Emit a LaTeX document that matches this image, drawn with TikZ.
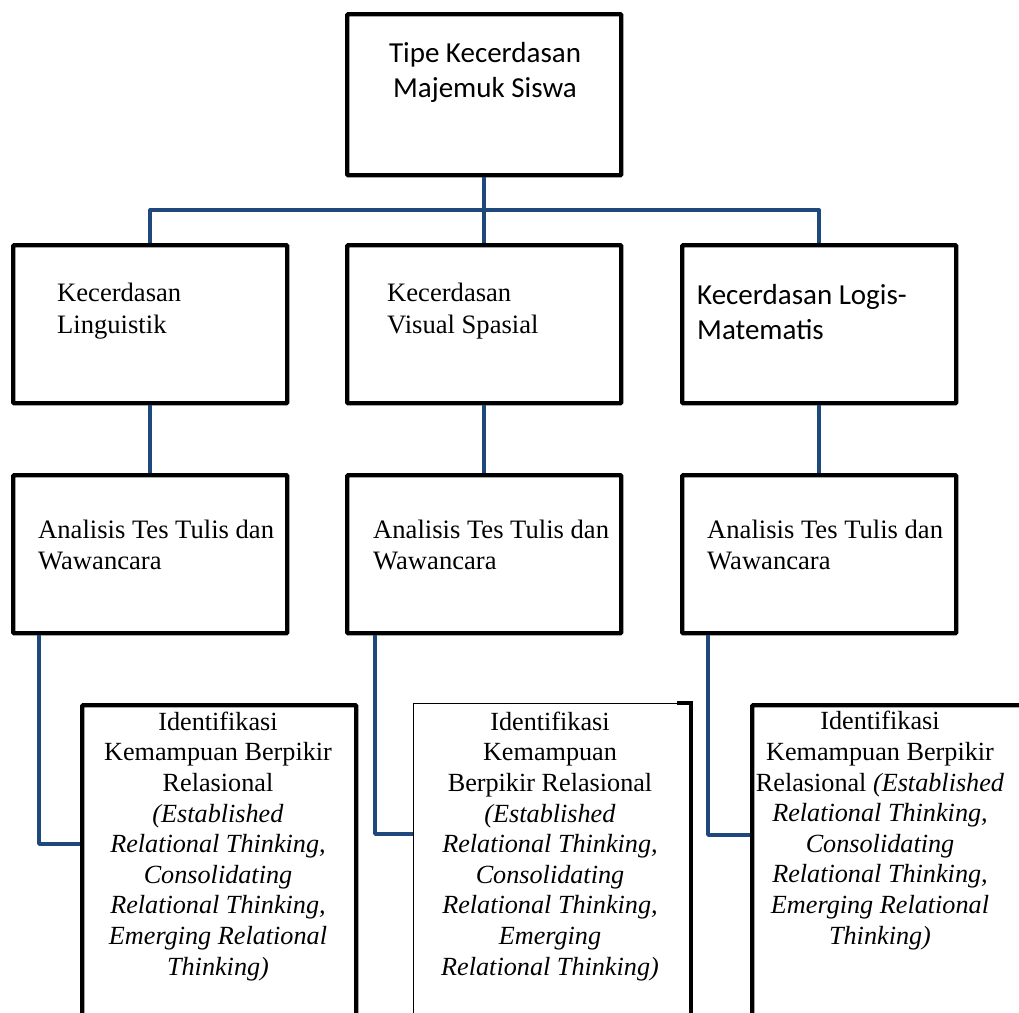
\documentclass[tikz,border=0pt]{standalone}
\usepackage{fontspec}
\setmainfont{Liberation Serif}
\newfontfamily\calfont{Carlito}
\definecolor{navy}{RGB}{31,73,125}
\begin{document}
\begin{tikzpicture}[x=1pt,y=-1pt,
  box/.style={draw=black, line width=4.4pt, rounded corners=1pt, fill=white, anchor=north west, inner sep=0pt},
  thinbox/.style={draw=black, line width=0.8pt, fill=white, anchor=north west, inner sep=0pt},
  conn/.style={draw=navy, line width=3.6pt, line join=round, line cap=butt},
  ctext/.style={font=\calfont\fontsize{29}{35}\selectfont, inner sep=0pt},
  ltext/.style={font=\fontsize{26.6}{31.5}\selectfont, inner sep=0pt, align=left, anchor=base west},
  btext/.style={font=\fontsize{26.2}{30.6}\selectfont, inner sep=0pt, align=center, anchor=base}]
\useasboundingbox (0,0) rectangle (1019,1012);
\clip (0,0) rectangle (1019,1012);
% boxes
\node[box, minimum width=274, minimum height=161] (top) at (345,12) {};
\node[box, minimum width=274, minimum height=158] (l2a) at (11,243) {};
\node[box, minimum width=274, minimum height=158] (l2b) at (345,243) {};
\node[box, minimum width=274, minimum height=158] (l2c) at (680,243) {};
\node[box, minimum width=274, minimum height=158] (l3a) at (11,473) {};
\node[box, minimum width=274, minimum height=158] (l3b) at (345,473) {};
\node[box, minimum width=274, minimum height=158] (l3c) at (680,473) {};
\node[box, minimum width=274, minimum height=340] (l4a) at (80,703) {};
\node[thinbox, minimum width=277.6, minimum height=340] (l4b) at (413,703) {};
\draw[line width=4.4pt, line cap=butt] ([xshift=264]l4b.north west) -- ([xshift=278]l4b.north west) -- ++(0,340);
\node[box, minimum width=300, minimum height=340] (l4c) at (750,703) {};
% connectors
\coordinate (hub) at (top.south |- 0,210);
\draw[conn] (top.south) -- (hub);
\draw[conn] (l2a.north) |- (hub) -| (l2c.north);
\draw[conn] (hub) -- (l2b.north);
\draw[conn] (l2a.south) -- (l3a.north);
\draw[conn] (l2b.south) -- (l3b.north);
\draw[conn] (l2c.south) -- (l3c.north);
\draw[conn] ([xshift=28]l3a.south west) |- ([yshift=-141]l4a.north west);
\draw[conn] ([xshift=30]l3b.south west) |- ([yshift=-131]l4b.north west);
\draw[conn] ([xshift=28]l3c.south west) |- ([yshift=-132]l4c.north west);
% texts (anchor base = baseline of last line)
\node[ctext, align=center, anchor=base] (t0) at (485,97) {Tipe Kecerdasan\\Majemuk Siswa};
\node[ltext] (t1) at (57,333) {Kecerdasan\\Linguistik};
\node[ltext] (t2) at (387,333) {Kecerdasan\\Visual Spasial};
\node[ctext, align=left, anchor=base west] (t3) at (697,339) {Kecerdasan Logis-\\Matematis};
\node[ltext] (t4) at (38,569.5) {Analisis Tes Tulis dan\\Wawancara};
\node[ltext] (t5) at (373,569.5) {Analisis Tes Tulis dan\\Wawancara};
\node[ltext] (t6) at (707,569.5) {Analisis Tes Tulis dan\\Wawancara};
\node[btext] (t7) at (218,975) {Identifikasi\\Kemampuan Berpikir\\Relasional\\\textit{(Established}\\\textit{Relational Thinking,}\\\textit{Consolidating}\\\textit{Relational Thinking,}\\\textit{Emerging Relational}\\\textit{Thinking)}};
\node[btext] (t8) at (550,975) {Identifikasi\\Kemampuan\\Berpikir Relasional\\\textit{(Established}\\\textit{Relational Thinking,}\\\textit{Consolidating}\\\textit{Relational Thinking,}\\\textit{Emerging}\\\textit{Relational Thinking)}};
\node[btext] (t9) at (880,944) {Identifikasi\\Kemampuan Berpikir\\Relasional \textit{(Established}\\\textit{Relational Thinking,}\\\textit{Consolidating}\\\textit{Relational Thinking,}\\\textit{Emerging Relational}\\\textit{Thinking)}};
\end{tikzpicture}
\end{document}
